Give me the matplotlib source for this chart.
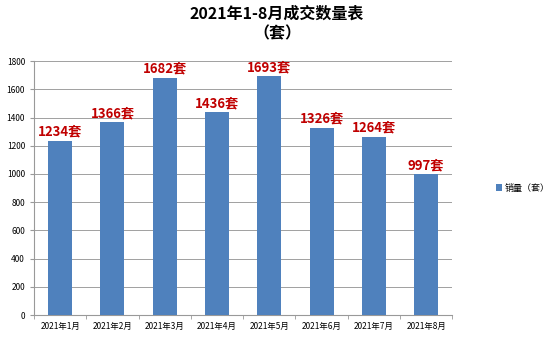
import matplotlib
matplotlib.use('Agg')
import matplotlib.pyplot as plt

plt.rcParams['font.family'] = ['Noto Sans CJK SC', 'DejaVu Sans']

months = ['2021年1月', '2021年2月', '2021年3月', '2021年4月',
          '2021年5月', '2021年6月', '2021年7月', '2021年8月']
sales = [1234, 1366, 1682, 1436, 1693, 1326, 1264, 997]

fig = plt.figure(figsize=(5.54, 3.47), dpi=100)
ax = fig.add_axes([0.0614, 0.092, 0.755, 0.732])

x = list(range(len(months)))
bars = ax.bar(x, sales, width=0.46, color='#4F81BD', label='销量（套）', zorder=3)

# 柱顶标签
for xi, v in zip(x, sales):
    ax.text(xi, v + 15, f'{v}套', ha='center', va='bottom', color='#C00000',
            fontsize=9.5, fontweight='bold')

ax.set_xlim(-0.5, len(months) - 0.5)
ax.set_ylim(0, 1800)
ax.set_yticks(range(0, 1801, 200))
ax.tick_params(axis='y', labelsize=6, length=3, color='#999999')
ax.set_xticks(x)
ax.set_xticklabels(months, fontsize=6)
ax.tick_params(axis='x', length=0, pad=5)
# 分类之间的刻度
ax.set_xticks([i - 0.5 for i in range(len(months) + 1)], minor=True)
ax.tick_params(axis='x', which='minor', length=3, color='#999999')

ax.grid(axis='y', color='#A0A0A0', linewidth=0.7, zorder=0)
for s in ['top', 'right']:
    ax.spines[s].set_visible(False)
ax.spines['left'].set_color('#999999')
ax.spines['bottom'].set_color('#999999')

fig.text(0.5, 0.96, '2021年1-8月成交数量表', ha='center', va='center',
         fontsize=11.5, fontweight='bold')
fig.text(0.5, 0.905, '（套）', ha='center', va='center', fontsize=11.5, fontweight='bold')

fig.legend(loc='center left', bbox_to_anchor=(0.88, 0.458), frameon=False,
           fontsize=6.5, handlelength=0.7, handleheight=0.7, handletextpad=0.3)

fig.savefig('out.png', dpi=100)
plt.close()
